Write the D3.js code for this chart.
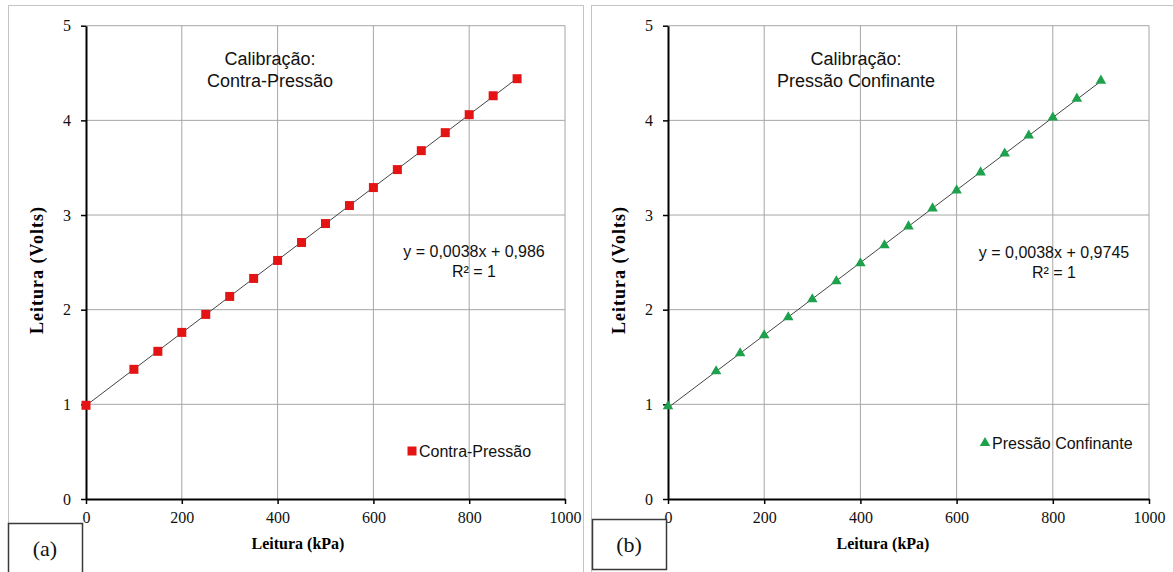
<!DOCTYPE html>
<html>
<head>
<meta charset="utf-8">
<script src="https://cdn.jsdelivr.net/npm/d3@7"></script>
<style>
  body { margin: 0; background: #fff; }
  svg { display: block; }
</style>
</head>
<body>
<svg id="chart" width="1173" height="572"></svg>
<script>
// Leituras (kPa) e tensões lidas (V)
const pressures = [0, 100, 150, 200, 250, 300, 350, 400, 450, 500, 550, 600, 650, 700, 750, 800, 850, 900];
const contraPressao = [0.99, 1.37, 1.56, 1.76, 1.95, 2.14, 2.33, 2.52, 2.71, 2.91, 3.10, 3.29, 3.48, 3.68, 3.87, 4.06, 4.26, 4.44];
const pressaoConfinante = [0.98, 1.35, 1.54, 1.73, 1.92, 2.11, 2.30, 2.49, 2.68, 2.88, 3.07, 3.26, 3.45, 3.65, 3.84, 4.03, 4.23, 4.42];
const xTicks = [0, 200, 400, 600, 800, 1000];
const yTicks = [0, 1, 2, 3, 4, 5];

const svg = d3.select('#chart');

// panel configs
const panels = [
    {
        label: '(a)', values: contraPressao, name: 'Contra-Pressão',
        title: ['Calibração:', 'Contra-Pressão'],
        equation: ['y = 0,0038x + 0,986', 'R² = 1'],
        frame: {x: 8, y: 5, w: 575}, labelBox: {x: 8, y: 523, w: 74, h: 60},
        x0: 86, x1: 565, titleX: 270, eqX: 474, eqY: 257,
        xTitleX: 298, yTitleX: 37, legendX: 407, legendY: 451, marker: 'square',
        color: '#e41414'
    },
    {
        label: '(b)', values: pressaoConfinante, name: 'Pressão Confinante',
        title: ['Calibração:', 'Pressão Confinante'],
        equation: ['y = 0,0038x + 0,9745', 'R² = 1'],
        frame: {x: 591, y: 5, w: 600}, labelBox: {x: 592, y: 519, w: 74, h: 50},
        x0: 668, x1: 1149, titleX: 856, eqX: 1054, eqY: 258,
        xTitleX: 883, yTitleX: 619, legendX: 980, legendY: 443, marker: 'triangle',
        color: '#1ea04c'
    }
];

const yTop = 25.7, yBottom = 499;
const serif = '"Liberation Serif", "Times New Roman", serif';
const sans = '"Liberation Sans", Arial, sans-serif';

// least squares fit for the trendline
function linearFit(xs, ys) {
    const mx = d3.mean(xs), my = d3.mean(ys);
    const num = d3.sum(xs, (x, i) => (x - mx) * (ys[i] - my));
    const den = d3.sum(xs, x => (x - mx) * (x - mx));
    const slope = num / den;
    return {slope, intercept: my - slope * mx};
}

panels.forEach(p => drawPanel(p));

function drawPanel(p) {
    const g = svg.append('g');

    // outer frame
    g.append('rect')
        .attr('x', p.frame.x + 0.5).attr('y', p.frame.y + 0.5)
        .attr('width', p.frame.w).attr('height', 600)
        .attr('fill', 'none').attr('stroke', '#c4c4c4');

    const xScale = d3.scaleLinear().domain([0, 1000]).range([p.x0, p.x1]);
    const yScale = d3.scaleLinear().domain([0, 5]).range([yBottom, yTop]);

    // gridlines
    g.selectAll('.vgrid')
        .data(xTicks.slice(1))
        .enter().append('line')
        .attr('x1', d => xScale(d)).attr('x2', d => xScale(d))
        .attr('y1', yTop).attr('y2', yBottom)
        .attr('stroke', '#a6a6a6').attr('stroke-width', 1);
    g.selectAll('.hgrid')
        .data(yTicks.slice(1))
        .enter().append('line')
        .attr('x1', p.x0).attr('x2', p.x1)
        .attr('y1', d => yScale(d)).attr('y2', d => yScale(d))
        .attr('stroke', '#a6a6a6').attr('stroke-width', 1);

    // Add X axis
    const xAxis = g.append('g')
        .attr('transform', `translate(0,${yBottom})`)
        .call(d3.axisBottom(xScale).tickValues(xTicks).tickFormat(d => String(d))
            .tickSize(5).tickSizeOuter(0).tickPadding(8));
    // Add Y axis
    const yAxis = g.append('g')
        .attr('transform', `translate(${p.x0},0)`)
        .call(d3.axisLeft(yScale).tickValues(yTicks).tickFormat(d => String(d))
            .tickSize(5).tickSizeOuter(0).tickPadding(10));

    [xAxis, yAxis].forEach(ax => {
        ax.select('.domain').attr('stroke', '#000').attr('stroke-width', 2);
        ax.selectAll('.tick line').attr('stroke', '#000').attr('stroke-width', 1.5);
        ax.selectAll('text')
            .style('font-family', serif)
            .style('font-size', '16px')
            .attr('fill', '#111');
    });

    // axis titles
    g.append('text')
        .attr('x', p.xTitleX).attr('y', 549)
        .attr('text-anchor', 'middle')
        .style('font-family', serif)
        .style('font-size', '16px').style('font-weight', 'bold')
        .text('Leitura (kPa)');
    g.append('text')
        .attr('transform', `translate(${p.yTitleX + 6},270) rotate(-90)`)
        .attr('text-anchor', 'middle')
        .style('font-family', serif)
        .style('font-size', '18px').style('font-weight', 'bold')
        .style('letter-spacing', '1px')
        .text('Leitura (Volts)');

    // trendline
    const fit = linearFit(pressures, p.values);
    const ends = [0, d3.max(pressures)];
    g.append('line')
        .attr('x1', xScale(ends[0])).attr('y1', yScale(fit.intercept + fit.slope * ends[0]))
        .attr('x2', xScale(ends[1])).attr('y2', yScale(fit.intercept + fit.slope * ends[1]))
        .attr('stroke', '#444').attr('stroke-width', 1);

    // markers
    const symbol = p.marker === 'square'
        ? d3.symbol().type(d3.symbolSquare).size(81)
        : d3.symbol().type(d3.symbolTriangle).size(48);
    g.selectAll('.pt')
        .data(pressures.map((x, i) => ({x, y: p.values[i]})))
        .enter().append('path')
        .attr('d', symbol)
        .attr('transform', d => `translate(${xScale(d.x)},${yScale(d.y)})`)
        .attr('fill', p.color);

    // title
    g.selectAll('.title')
        .data(p.title)
        .enter().append('text')
        .attr('x', p.titleX).attr('y', (d, i) => 65 + i * 22)
        .attr('text-anchor', 'middle')
        .style('font-family', sans).style('font-size', '18px')
        .attr('fill', '#111')
        .text(d => d);

    // equation
    g.selectAll('.eq')
        .data(p.equation)
        .enter().append('text')
        .attr('x', p.eqX).attr('y', (d, i) => p.eqY + i * 20)
        .attr('text-anchor', 'middle')
        .style('font-family', sans).style('font-size', '16px')
        .attr('fill', '#111')
        .text(d => d);

    // legend
    g.append('path')
        .attr('d', symbol)
        .attr('transform', `translate(${p.legendX + 5},${p.legendY})`)
        .attr('fill', p.color);
    g.append('text')
        .attr('x', p.legendX + 12).attr('y', p.legendY + 5.5)
        .style('font-family', sans).style('font-size', '16px')
        .attr('fill', '#111')
        .text(p.name);

    // panel label box
    g.append('rect')
        .attr('x', p.labelBox.x + 0.5).attr('y', p.labelBox.y + 0.5)
        .attr('width', p.labelBox.w).attr('height', p.labelBox.h)
        .attr('fill', '#fff').attr('stroke', '#3a3a3a').attr('stroke-width', 1.5);
    g.append('text')
        .attr('x', p.labelBox.x + p.labelBox.w / 2).attr('y', p.labelBox.y + 33)
        .attr('text-anchor', 'middle')
        .style('font-family', serif)
        .style('font-size', '22px')
        .attr('fill', '#111')
        .text(p.label);
}
</script>
</body>
</html>
